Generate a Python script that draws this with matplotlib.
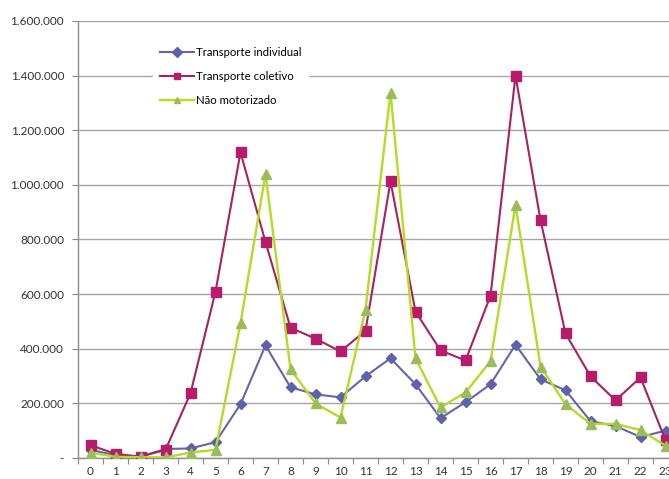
import matplotlib
matplotlib.use("Agg")
import matplotlib.pyplot as plt
from matplotlib.ticker import FixedLocator, FuncFormatter

hours = list(range(24))
individual = [30000, 10000, 5000, 33000, 35000, 58000, 197000, 412000, 259000, 233000,
              222000, 299000, 365000, 270000, 146000, 204000, 270000, 415000, 288000,
              248000, 135000, 117000, 77000, 100000]
coletivo = [47000, 15000, 5000, 30000, 237000, 609000, 1119000, 791000, 477000, 437000,
            390000, 466000, 1013000, 536000, 394000, 357000, 594000, 1400000, 871000,
            456000, 299000, 211000, 295000, 65000]
nao_motorizado = [20000, 4000, 3000, 2000, 20000, 30000, 493000, 1040000, 325000, 200000,
                  148000, 543000, 1338000, 365000, 185000, 240000, 354000, 927000, 335000,
                  197000, 125000, 125000, 102000, 45000]
series_names = ["Transporte individual", "Transporte coletivo", "Não motorizado"]
y_ticks = [0, 200000, 400000, 600000, 800000, 1000000, 1200000, 1400000, 1600000]

plt.rcParams['font.family'] = ['Lato', 'DejaVu Sans']

fig = plt.figure(figsize=(6.69, 4.79), dpi=100)
W, H = 669, 479
ax = fig.add_axes([78 / W, 21 / H, 600 / W, 437 / H])

ax.plot(hours, individual, color="#6466A8", lw=1.5, marker="D", ms=5.5,
        mfc="#5F62A8", mec="#5F62A8", label=series_names[0], zorder=3)
ax.plot(hours, coletivo, color="#A8225E", lw=1.5, marker="s", ms=6.5,
        mfc="#B71C6A", mec="#B71C6A", label=series_names[1], zorder=3)
ax.plot(hours, nao_motorizado, color="#B2DD22", lw=1.7, marker="^", ms=7,
        mfc="#9CBB5A", mec="#9CBB5A", label=series_names[2], zorder=3)

ax.set_xlim(-0.5, 23.5)
ax.set_ylim(0, 1600000)
ax.set_xticks(hours)
ax.set_xticklabels([str(h) for h in hours])
ax.xaxis.set_minor_locator(FixedLocator([h - 0.5 for h in hours] + [23.5]))
ax.tick_params(axis="x", which="major", length=0, pad=6, labelsize=8.5, colors="#333333")
ax.tick_params(axis="x", which="minor", length=4, color="#888888", width=0.8, direction="out")

ax.set_yticks(y_ticks)
def fmt(v, pos):
    if v == 0:
        return "-"
    return f"{int(v):,}".replace(",", ".")
ax.yaxis.set_major_formatter(FuncFormatter(fmt))
ax.tick_params(axis="y", length=4, color="#888888", width=0.8, direction="out",
               labelsize=8.5, pad=6)
for lbl in ax.get_yticklabels():
    lbl.set_color("#333333")

ax.grid(axis="y", color="#A6A6A6", lw=1.0, zorder=0)
ax.set_axisbelow(True)
for s in ["top", "right"]:
    ax.spines[s].set_visible(False)
for s in ["left", "bottom"]:
    ax.spines[s].set_color("#8C8C8C")
    ax.spines[s].set_linewidth(1.0)

leg = ax.legend(loc="upper left", bbox_to_anchor=(0.115, 0.97), frameon=True,
                fontsize=8.2, handlelength=3.0, labelspacing=1.15, borderpad=0.6,
                handletextpad=0.2)
leg.get_frame().set_facecolor("white")
leg.get_frame().set_edgecolor("white")
leg.get_frame().set_alpha(1.0)
for line in leg.get_lines():
    line.set_markersize(5)

fig.savefig("out.png", dpi=100)
